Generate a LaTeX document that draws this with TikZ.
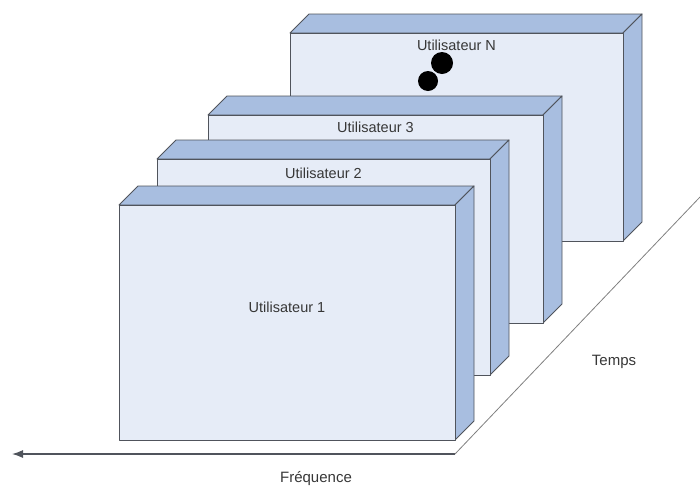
\documentclass[tikz,border=0pt]{standalone}
\usepackage{fontspec}
\setmainfont{Liberation Sans}
\usetikzlibrary{arrows.meta}
\definecolor{face}{RGB}{230,236,247}
\definecolor{edge}{RGB}{168,190,224}
\definecolor{rim}{RGB}{80,84,92}
\definecolor{ink}{RGB}{55,55,55}

\begin{document}
\begin{tikzpicture}[x=1pt,y=-1pt,
  facestyle/.style={fill=face, draw=rim, line width=0.9pt, line join=round},
  edgestyle/.style={fill=edge, draw=rim, line width=0.9pt, line join=round},
  userlabel/.style={text=ink, font=\fontsize{14.5}{16}\selectfont, inner sep=0pt},
  axislabel/.style={text=ink, font=\fontsize{15}{17}\selectfont, inner sep=0pt}]

\useasboundingbox (0,0) rectangle (700,488);

%---------------------------------------
% Depth of the slabs
%---------------------------------------
\def\Dx{19}
\def\Dy{19}

%---------------------------------------
% Slabs, back to front: name/left/top/right/bottom/label y
%---------------------------------------
\foreach \n/\l/\t/\r/\b/\ly in {N/290/33/623/241/45,
                                 3/208/115/543/323/127,
                                 2/157/159/490/375/173,
                                 1/119/205/455/440/307}{
  % top face
  \draw[edgestyle] (\l,\t) -- ++(\Dx,-\Dy) -- (\r+\Dx,\t-\Dy) -- (\r,\t) -- cycle;
  % side face
  \draw[edgestyle] (\r,\t) -- (\r+\Dx,\t-\Dy) -- (\r+\Dx,\b-\Dy) -- (\r,\b) -- cycle;
  % front face
  \draw[facestyle] (\l,\t) rectangle (\r,\b);
  \node[userlabel] (lab\n) at ({(\l+\r)/2},\ly) {Utilisateur \n};
}

% Dots under user N
\fill (442,63) circle (11);
\fill (428,81) circle (10);

%---------------------------------------
% Axes
%---------------------------------------
\coordinate (origin) at (455,454);
\coordinate (freqend) at (12,454);
\coordinate (timeend) at (700,197);

\draw[-{Latex[length=11pt,width=8pt]}, rim, line width=1.2pt] (origin) -- (freqend);
\draw[gray, line width=0.8pt] (origin) -- (timeend);

\node[axislabel] (freq) at (316,479) {Fréquence};
\node[axislabel] (temps) at (614,362) {Temps};

\end{tikzpicture}
\end{document}
